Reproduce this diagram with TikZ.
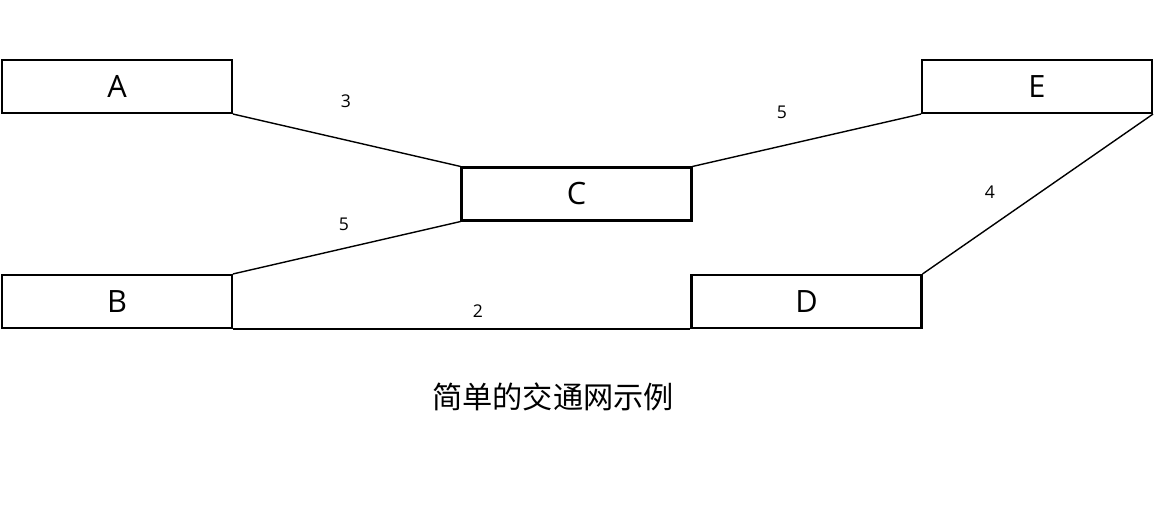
\documentclass[tikz,border=0pt]{standalone}
\usepackage{fontspec}
\setmainfont{Open Sans}
\newfontfamily\cjk{Noto Sans CJK SC}
\usetikzlibrary{positioning}

\begin{document}
\begin{tikzpicture}[
    x=0.02cm,y=-0.02cm,
    blk/.style={rectangle,draw,line width=1.2pt,minimum width=4.6cm,minimum height=1.06cm,inner sep=0pt,font=\fontsize{17.5}{20}\selectfont},
    edge/.style={line width=0.8pt},
    wt/.style={font=\fontsize{10}{12}\selectfont,inner sep=0pt},
]
\useasboundingbox (0,0) rectangle (1161,518);

% Nodes
\node[blk] (A) at (117,86.5) {A};
\node[blk] (B) at (117,301.5) {B};
\node[blk] (C) at (576.5,194) {C};
\node[blk] (D) at (806.5,301.5) {D};
\node[blk] (E) at (1037,86.5) {E};

% Roads
\draw[edge] (A.south east) -- (C.north west);
\draw[edge] (B.north east) -- (C.south west);
\draw[edge] (C.north east) -- (E.south west);
\draw[edge] (B.south east) -- (D.south west);
\draw[edge] (D.north east) -- (E.south east);

% Weights
\node[wt] (wAC) at (346,101) {3};
\node[wt] (wBC) at (344,224) {5};
\node[wt] (wCE) at (782,112) {5};
\node[wt] (wDE) at (990,192) {4};
\node[wt] (wBD) at (478,311) {2};

% Caption
\node[font=\cjk\fontsize{17.2}{20}\selectfont] (cap) at (553,397) {简单的交通网示例};
\end{tikzpicture}
\end{document}
